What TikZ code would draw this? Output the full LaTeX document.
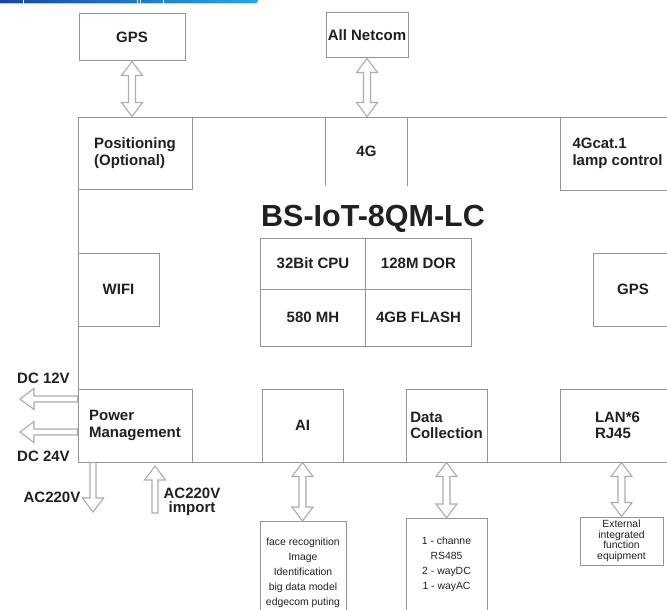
\documentclass[tikz,border=0pt]{standalone}
\usepackage{fontspec}
\setmainfont{Liberation Sans}
\usetikzlibrary{calc}
\definecolor{ligne}{RGB}{150,150,150}
\definecolor{fleche}{RGB}{172,172,172}
\definecolor{texte}{RGB}{35,31,32}
\definecolor{bandeA}{RGB}{24,70,150}
\definecolor{bandeB}{RGB}{42,165,228}

\tikzset{
  trait/.style={draw=ligne, line width=1pt},
  boite/.style={draw=ligne, line width=1pt, inner sep=0pt, align=left, text=texte,
    font=\bfseries\fontsize{15}{16.5}\selectfont},
  petit/.style={draw=ligne, line width=1pt, inner xsep=0pt, align=center, text=texte,
    font=\fontsize{10.4}{15}\selectfont},
  etiq/.style={inner sep=0pt, align=center, text=texte,
    font=\bfseries\fontsize{15}{14}\selectfont},
  titre/.style={inner sep=0pt, text=texte, font=\bfseries\fontsize{30.5}{36}\selectfont},
  creux/.style={draw=fleche, fill=white, line width=1.1pt, line join=miter},
  flechedouble/.style={creux, to path={
    -- ($(\tikztostart)!14pt!(\tikztotarget)!10.5pt!90:(\tikztotarget)$)
    -- ($(\tikztostart)!14pt!(\tikztotarget)!3.5pt!90:(\tikztotarget)$)
    -- ($(\tikztotarget)!14pt!(\tikztostart)!3.5pt!-90:(\tikztostart)$)
    -- ($(\tikztotarget)!14pt!(\tikztostart)!10.5pt!-90:(\tikztostart)$)
    -- (\tikztotarget)
    -- ($(\tikztotarget)!14pt!(\tikztostart)!10.5pt!90:(\tikztostart)$)
    -- ($(\tikztotarget)!14pt!(\tikztostart)!3.5pt!90:(\tikztostart)$)
    -- ($(\tikztostart)!14pt!(\tikztotarget)!3.5pt!-90:(\tikztotarget)$)
    -- ($(\tikztostart)!14pt!(\tikztotarget)!10.5pt!-90:(\tikztotarget)$)
    -- cycle}},
  flechesimple/.style={creux, to path={
    -- ($(\tikztostart)!3pt!90:(\tikztotarget)$)
    -- ($(\tikztotarget)!14pt!(\tikztostart)!3pt!-90:(\tikztostart)$)
    -- ($(\tikztotarget)!14pt!(\tikztostart)!10.5pt!-90:(\tikztostart)$)
    -- (\tikztotarget)
    -- ($(\tikztotarget)!14pt!(\tikztostart)!10.5pt!90:(\tikztostart)$)
    -- ($(\tikztotarget)!14pt!(\tikztostart)!3pt!90:(\tikztostart)$)
    -- ($(\tikztostart)!3pt!-90:(\tikztotarget)$)
    -- cycle}},
}

\begin{document}
\begin{tikzpicture}[x=1pt, y=-1pt]
	\useasboundingbox (0,0) rectangle (667,610);

	% bandeau
	\shade[left color=bandeA, right color=bandeB, rounded corners=3pt] (-6,-6) rectangle (258,3.5);
	\foreach \x in {23.5,137,140.5,163.5} {
		\draw[white, line width=0.8pt] (\x,-1) -- (\x,4);
	}

	% cadre
	\draw[trait] (78,117) rectangle (690,462);

	% haut
	\node[boite, minimum width=106pt, minimum height=47pt] (gpsT) at (132,37.5) {GPS};
	\node[boite, minimum width=82pt, minimum height=45pt] (netT) at (367,35.5) {All Netcom};
	\node[boite, minimum width=114pt, minimum height=72pt] (pos) at (135,153) {Positioning\\(Optional)};
	\node[boite, draw=none, minimum width=81pt, minimum height=68pt] (g4) at (366.5,151) {4G};
	\draw[trait] (g4.north west) -- (g4.south west) (g4.north east) -- (g4.south east);
	\node[boite, minimum width=115pt, minimum height=73pt] (cat) at (617.5,153.5) {4Gcat.1\\lamp control};

	% titre
	\node[titre] (titre) at (373,219) {BS-IoT-8QM-LC};

	% puce
	\foreach \nom/\x/\y/\h/\txt in {cpu/313/263.5/51/32Bit CPU, dor/418.5/263.5/51/128M DOR,
		mh/313/317.5/57/580 MH, flash/418.5/317.5/57/4GB FLASH} {
		\node[boite, minimum width=105.5pt, minimum height=\h pt] (\nom) at (\x,\y) {\txt};
	}

	% milieu
	\node[boite, minimum width=81pt, minimum height=73pt] (wifi) at (118.5,289.5) {WIFI};
	\node[boite, minimum width=80pt, minimum height=73pt] (gpsR) at (633,289.5) {GPS};

	% bas
	\node[boite, minimum width=114pt, minimum height=73pt] (pm) at (135,425.5) {Power\\Management};
	\node[boite, minimum width=81pt, minimum height=73pt] (ai) at (302.5,425.5) {AI};
	\node[boite, minimum width=81pt, minimum height=73pt] (dc) at (446.5,425.5) {Data\\Collection};
	\node[boite, minimum width=115pt, minimum height=73pt] (lan) at (617.5,425.5) {LAN*6\\RJ45};

	% sous-boites
	\node[petit, anchor=north, minimum width=86pt, inner ysep=16pt, text depth=90pt] (aiS) at (303,521)
		{face recognition\\Image\\Identification\\big data model\\edgecom puting};
	\node[petit, anchor=north, minimum width=81pt, inner ysep=18pt, text depth=90pt] (dcS) at (446.5,518)
		{1 - channe\\RS485\\2 - wayDC\\1 - wayAC};
	\node[petit, minimum width=83pt, minimum height=48pt, inner ysep=0pt,
		font=\fontsize{10.4}{10.5}\selectfont] (lanS) at (621.5,541)
		{External\\integrated\\function\\equipment};

	% fleches
	\draw[flechedouble] (gpsT.south) to (gpsT.south |- pos.north);
	\draw[flechedouble] (netT.south) to (netT.south |- g4.north);
	\draw[flechedouble] (ai.south) to (ai.south |- aiS.north);
	\draw[flechedouble] (dc.south) to (dc.south |- dcS.north);
	\draw[flechedouble] (lanS.north |- lan.south) to (lanS.north);

	\coordinate (dc12) at (20,399);
	\coordinate (dc24) at (20,432);
	\coordinate (acsort) at (93,512);
	\coordinate (acin) at (155,513);
	\coordinate (acinb) at (155,466);
	\draw[flechesimple] (pm.west |- dc12) to (dc12);
	\draw[flechesimple] (pm.west |- dc24) to (dc24);
	\draw[flechesimple] (pm.south -| acsort) to (acsort);
	\draw[flechesimple] (acin) to (acinb);

	% etiquettes
	\node[etiq] (l12) at (43.5,378.5) {DC 12V};
	\node[etiq] (l24) at (43.5,456) {DC 24V};
	\node[etiq] (lac) at (52,497.5) {AC220V};
	\node[etiq] (lin) at (192,502) {AC220V\\import};
\end{tikzpicture}
\end{document}
